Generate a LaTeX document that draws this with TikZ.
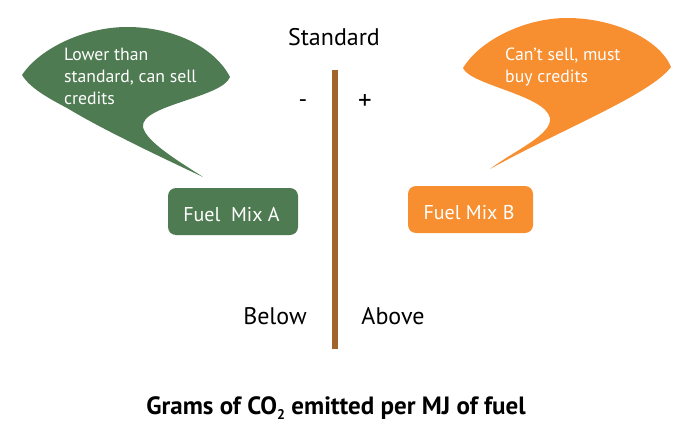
\documentclass[tikz,border=0pt]{standalone}
\usepackage{fontspec}
\setmainfont{PT Sans}
\usepackage{tikz}
\definecolor{mixgreen}{HTML}{4F7B52}
\definecolor{mixorange}{HTML}{F78E2F}
\definecolor{barbrown}{HTML}{A0652B}
\tikzset{
    mixbox/.style={rounded corners=8pt, minimum width=#1, minimum height=47pt, inner sep=0pt, text height=28pt, text depth=8pt, text=white, font=\fontsize{20}{20}\selectfont, execute at end node=\kern3pt},
    note/.style={text=white, align=left, anchor=north west, inner sep=0pt, font=\fontsize{17.7}{22}\selectfont},
    plain/.style={text=black, inner sep=0pt, font=\fontsize{24}{24}\selectfont}
}
\begin{document}
\begin{tikzpicture}[x=1pt,y=-1pt]
    \useasboundingbox (0,0) rectangle (691,431);
    % speech bubbles
    \fill[mixgreen] (22,75) .. controls (40,48) and (85,27) .. (127,27)
        .. controls (175,27) and (215,48) .. (230,77)
        .. controls (222,98) and (140,105) .. (143,127)
        .. controls (146,142) and (180,162) .. (203,177)
        .. controls (150,152) and (100,128) .. (67,108)
        .. controls (48,98) and (30,88) .. (22,75) -- cycle;
    \fill[mixorange] (463,68) .. controls (480,40) and (525,18) .. (567,18)
        .. controls (615,18) and (660,40) .. (671,67)
        .. controls (650,95) and (560,130) .. (490,169)
        .. controls (515,150) and (552,135) .. (550,118)
        .. controls (545,95) and (470,85) .. (463,68) -- cycle;
    \node[note] (lower) at (64,48) {Lower than\\standard, can sell\\credits};
    \node[note] (cant) at (505,48) {Can’t sell, must\\buy credits};
    % the two mixes
    \node[mixbox=130pt, fill=mixgreen] (mixa) at (233,211.5) {Fuel\ \ Mix A};
    \node[mixbox=125pt, fill=mixorange] (mixb) at (470.5,209.5) {Fuel Mix B};
    % standard line
    \node[plain] (standard) at (334,37) {Standard};
    \coordinate (bartop) at (335,70);
    \coordinate (barbot) at (335,349);
    \draw[barbrown, line width=6.5pt] (bartop) -- (barbot);
    \node[plain] (minus) at (303,104) {-};
    \node[plain, font=\fontsize{27}{27}\selectfont] (plus) at (365,102) {+};
    \node[plain] (below) at (275,316) {Below};
    \node[plain] (above) at (393,316) {Above};
    \node[plain, font=\fontsize{25}{25}\selectfont\bfseries] (grams) at (336,408) {Grams of CO\raisebox{-5pt}{\fontsize{14}{14}\selectfont 2} emitted per MJ of fuel};
\end{tikzpicture}
\end{document}
